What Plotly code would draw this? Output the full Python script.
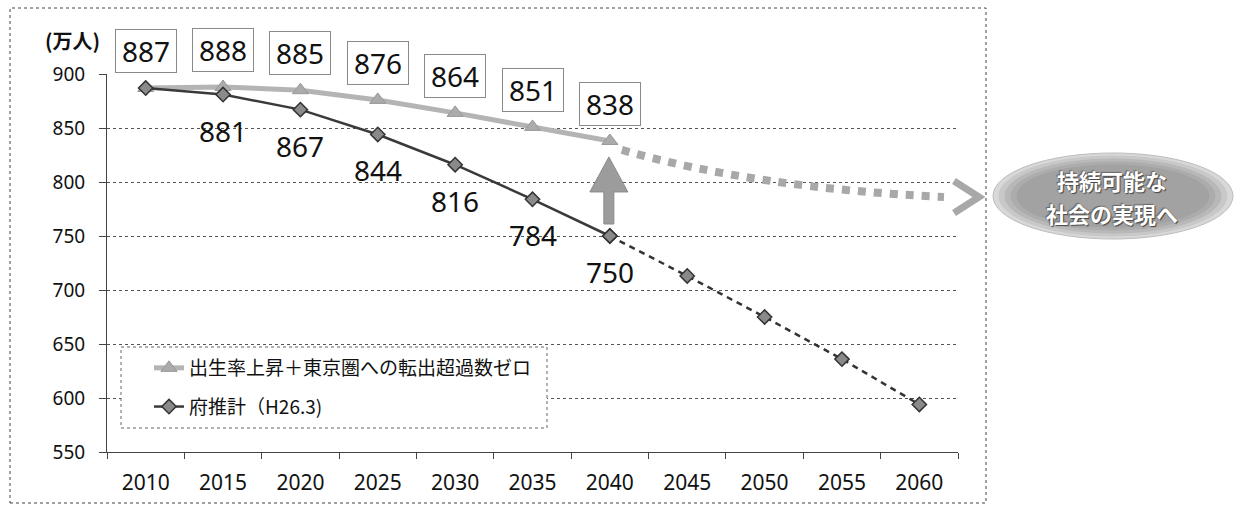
import plotly.graph_objects as go

# ---- data -------------------------------------------------------------
years = [2010, 2015, 2020, 2025, 2030, 2035, 2040, 2045, 2050, 2055, 2060]
tick_labels = [str(y) for y in years]

# 府推計（H26.3） : 2010-2060
fu_suikei = [887, 881, 867, 844, 816, 784, 750, 713, 675, 636, 594]
# 出生率上昇＋東京圏への転出超過数ゼロ : 2010-2040
goal_case = [887, 888, 885, 876, 864, 851, 838]

name_goal = "出生率上昇＋東京圏への転出超過数ゼロ"
name_fu = "府推計（H26.3)"
unit_label = "(万人)"
bubble_lines = ["持続可能な", "社会の実現へ"]

# ---- geometry helpers -------------------------------------------------
W, H = 1241, 507
X_L, X_R, Y_T, Y_B = 107, 958, 74, 452          # plot area in pixels
XR = [years[0] - 2.5, years[-1] + 2.5]
YR = [550, 900]


def fx(p):
    return p / W


def fy(p):
    return 1 - p / H


def year_px(yr):
    return X_L + (yr - XR[0]) / (XR[1] - XR[0]) * (X_R - X_L)


def val_px(v):
    return Y_B - (v - YR[0]) / (YR[1] - YR[0]) * (Y_B - Y_T)


def path(points, closed=False, curve=False):
    pts = [f"{fx(x):.5f},{fy(y):.5f}" for x, y in points]
    if curve:
        d = f"M{pts[0]} Q{pts[1]} {pts[2]}"
    else:
        d = "M" + " L".join(pts)
    return d + (" Z" if closed else "")


FONT = "Noto Sans, Noto Sans CJK JP, sans-serif"
JP = "Noto Sans CJK JP, sans-serif"

n_goal = len(goal_case)
split = n_goal - 1  # index of 2040

fig = go.Figure()

fig.add_trace(go.Scatter(
    x=years[:n_goal], y=goal_case, name=name_goal, mode="lines+markers",
    legendgroup="a",
    line=dict(color="#b4b4b4", width=5),
    marker=dict(symbol="triangle-up", size=14, color="#ababab",
                line=dict(color="#999", width=1)),
))
fig.add_trace(go.Scatter(
    x=years[:split + 1], y=fu_suikei[:split + 1], name=name_fu,
    mode="lines+markers", legendgroup="b",
    line=dict(color="#3a3a3a", width=2.5),
    marker=dict(symbol="diamond", size=11, color="#8a8a8a",
                line=dict(color="#333", width=1.5)),
))
fig.add_trace(go.Scatter(
    x=years[split:], y=fu_suikei[split:], mode="lines+markers",
    showlegend=False, legendgroup="b",
    line=dict(color="#333", width=2.5, dash="6px,5px"),
    marker=dict(symbol="diamond", size=11, color="#8a8a8a",
                line=dict(color="#333", width=1.5)),
))

annotations = []
# boxed values above the goal line
for yr, v in zip(years[:n_goal], goal_case):
    annotations.append(dict(
        x=yr, y=v, xref="x", yref="y", text=str(v), showarrow=False,
        yshift=37, width=60, height=42, borderpad=0,
        bordercolor="#8a8a8a", borderwidth=1,
        font=dict(family=FONT, size=28, color="#111"),
    ))
# values below the projection line (2015-2040)
for yr, v in zip(years[1:n_goal], fu_suikei[1:n_goal]):
    annotations.append(dict(
        x=yr, y=v, xref="x", yref="y", text=str(v), showarrow=False,
        yshift=-36, font=dict(family=FONT, size=28, color="#111"),
    ))
# unit label
annotations.append(dict(
    x=fx(72), y=fy(41), xref="paper", yref="paper", text=f"<b>{unit_label}</b>",
    xanchor="center", yanchor="middle",
    showarrow=False, font=dict(family=JP, size=20, color="#111"),
))
# bubble text, one annotation per line
for txt, ypix in zip(bubble_lines, [180, 213]):
    annotations.append(dict(
        x=fx(1112), y=fy(ypix), xref="paper", yref="paper", text=f"<b>{txt}</b>",
        xanchor="center", yanchor="middle", showarrow=False,
        font=dict(family=JP, size=22, color="white",
                  shadow="1px 1px 1px #444, -1px -1px 1px #666"),
    ))

shapes = []
# outer frame
shapes.append(dict(type="rect", xref="paper", yref="paper",
                   x0=fx(10), x1=fx(986), y0=fy(503), y1=fy(8),
                   line=dict(color="#444", width=1, dash="dot"), layer="below"))
# legend frame (white, hides grid)
shapes.append(dict(type="rect", xref="paper", yref="paper",
                   x0=fx(121), x1=fx(547), y0=fy(428), y1=fy(347),
                   fillcolor="white",
                   line=dict(color="#666", width=1, dash="dot"), layer="above"))

# dotted continuation arrow from the 2040 goal value
sx, sy = year_px(years[split]) + 12, val_px(goal_case[-1]) + 9
shapes.append(dict(type="path", xref="paper", yref="paper",
                   path=path([(sx, sy), (756, 188), (944, 197)], curve=True),
                   line=dict(color="#a8a8a8", width=8, dash="dot"), layer="above"))
shapes.append(dict(type="path", xref="paper", yref="paper",
                   path=path([(954, 181), (979, 197), (954, 213)]),
                   line=dict(color="#a8a8a8", width=7), layer="above"))

# upward arrow between the two scenarios at 2040
ax = year_px(years[split]) - 1
tip = val_px(goal_case[-1]) + 16
base = val_px(fu_suikei[split]) - 12
shapes.append(dict(type="path", xref="paper", yref="paper",
                   path=path([(ax - 5, base), (ax + 5, base), (ax + 5, tip + 35),
                              (ax + 19, tip + 35), (ax, tip), (ax - 19, tip + 35),
                              (ax - 5, tip + 35)], closed=True),
                   fillcolor="#9c9c9c", line=dict(color="#8a8a8a", width=1),
                   layer="above"))

# bubble: stacked ellipses for a soft gradient
cx, cy, rx, ry = 1113, 196, 120, 43
for k, col in enumerate(["#d8d8d8", "#c8c8c8", "#b8b8b8", "#acacac", "#a2a2a2"]):
    sx_ = rx - k * 6
    sy_ = ry - k * 3
    shapes.append(dict(type="circle", xref="paper", yref="paper",
                       x0=fx(cx - sx_), x1=fx(cx + sx_),
                       y0=fy(cy + sy_), y1=fy(cy - sy_),
                       fillcolor=col,
                       line=dict(color="#bdbdbd" if k == 0 else col, width=1),
                       layer="above"))

boundaries = [y - 2.5 for y in years] + [years[-1] + 2.5]

fig.update_layout(
    width=W, height=H,
    margin=dict(l=0, r=0, t=0, b=0),
    paper_bgcolor="white", plot_bgcolor="white",
    font=dict(family=FONT, color="#111"),
    showlegend=True,
    legend=dict(x=fx(149), y=fy(349), xanchor="left", yanchor="top",
                bgcolor="rgba(0,0,0,0)", borderwidth=0,
                font=dict(family=JP, size=19, color="#111"),
                traceorder="grouped", tracegroupgap=11),
    xaxis=dict(domain=[fx(X_L), fx(X_R)], range=XR, automargin=False,
               tickmode="array", tickvals=years, ticktext=tick_labels,
               ticks="", showgrid=False, zeroline=False,
               showline=True, linecolor="#444", linewidth=1,
               tickfont=dict(family=FONT, size=21, color="#111"),
               ticklabelstandoff=12,
               minor=dict(tickmode="array", tickvals=boundaries, ticks="outside",
                          ticklen=6, tickcolor="#444", showgrid=False)),
    yaxis=dict(domain=[fy(Y_B), fy(Y_T)], range=YR, automargin=False,
               dtick=50, tick0=550, ticks="outside", ticklen=7, tickcolor="#444",
               showgrid=True, gridcolor="#555", gridwidth=1, griddash="dot",
               zeroline=False, showline=True, linecolor="#444", linewidth=1,
               tickfont=dict(family=FONT, size=19, color="#111"),
               ticklabelstandoff=10),
    annotations=annotations,
    shapes=shapes,
)

fig.write_html("out.html")
